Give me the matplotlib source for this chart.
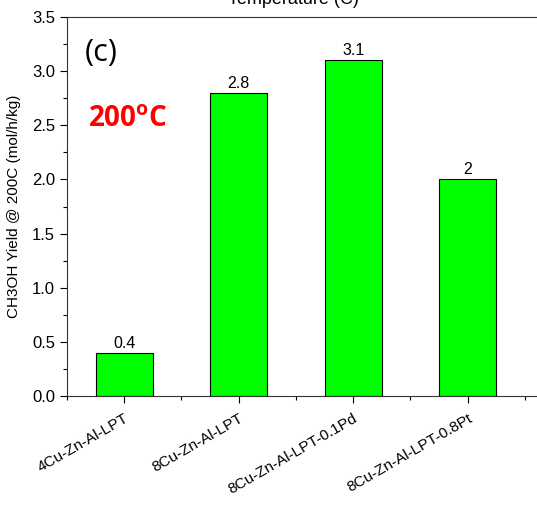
import matplotlib.pyplot as plt
from matplotlib.ticker import MultipleLocator, FixedLocator
import numpy as np

plt.rcParams['font.family'] = ['Liberation Sans', 'DejaVu Sans']

catalysts = ['4Cu-Zn-Al-LPT', '8Cu-Zn-Al-LPT', '8Cu-Zn-Al-LPT-0.1Pd', '8Cu-Zn-Al-LPT-0.8Pt']
yields = [0.4, 2.8, 3.1, 2]
labels = ['0.4', '2.8', '3.1', '2']

fig = plt.figure(figsize=(5.37, 5.05), dpi=100)
ax = fig.add_axes([67/537, 109/505, 515/537, 379/505])

x = np.arange(len(catalysts))
ax.bar(x, yields, width=0.5, color='#00ff00', edgecolor='black', linewidth=0.8)
for xi, v, s in zip(x, yields, labels):
    ax.text(xi, v + 0.02, s, ha='center', va='bottom', fontsize=11.5)

ax.set_xlim(-0.5, 4.0)
ax.set_ylim(0, 3.5)
ax.set_xticks(x)
ax.set_xticklabels(catalysts, rotation=30, ha='right', rotation_mode='anchor')
ax.xaxis.set_minor_locator(FixedLocator([-0.5, 0.5, 1.5, 2.5, 3.5]))
ax.yaxis.set_major_locator(MultipleLocator(0.5))
ax.yaxis.set_minor_locator(MultipleLocator(0.25))
ax.tick_params(axis='both', which='major', direction='out', length=5, width=0.8, labelsize=12)
ax.tick_params(axis='x', which='major', pad=6, labelsize=11)
ax.tick_params(axis='both', which='minor', direction='out', length=3, width=0.8)
for sp in ax.spines.values():
    sp.set_linewidth(0.8)
    sp.set_color('#333333')

ax.set_ylabel('CH3OH Yield @ 200C (mol/h/kg)', fontsize=11)
ax.yaxis.set_label_coords(-0.09, 0.5)

ax.text(0.035, 0.905, '(c)', transform=ax.transAxes, fontsize=22,
        family=['Open Sans', 'DejaVu Sans'], va='center')
ax.text(0.04, 0.73, '200$^\\mathregular{o}$C', transform=ax.transAxes, fontsize=20,
        color='red', fontweight='bold', family=['Open Sans', 'DejaVu Sans'], va='center')

fig.text(293/537, 1 - 4/505, 'Temperature (C)', ha='center', va='baseline', fontsize=13)

fig.savefig('out.png', dpi=100)
